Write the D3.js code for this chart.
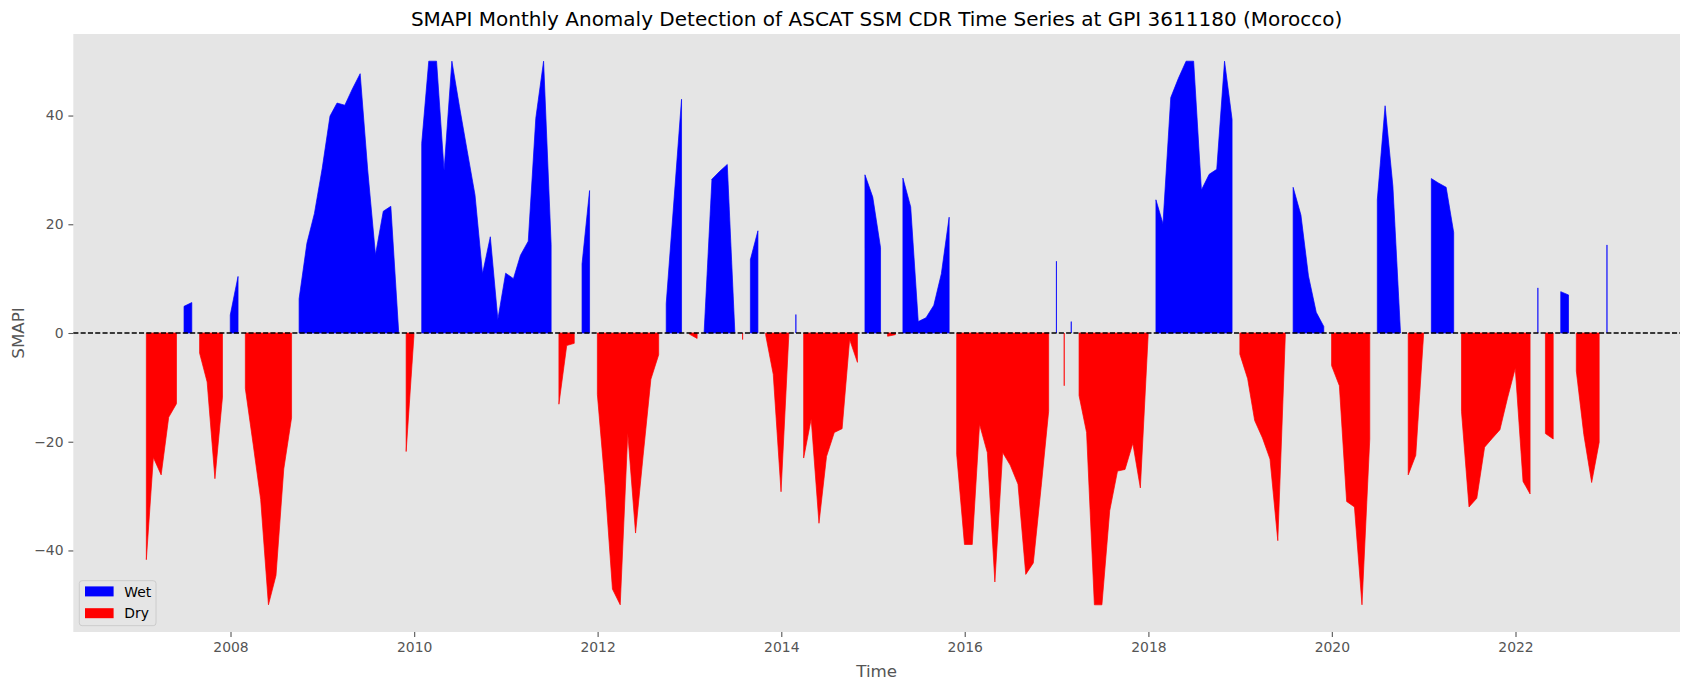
<!DOCTYPE html>
<html>
<head>
<meta charset="utf-8">
<script src="https://cdn.jsdelivr.net/npm/d3@7"></script>
<style>
  body { margin: 0; background: #fff; }
  svg { display: block; font-family: "DejaVu Sans", sans-serif; }
</style>
</head>
<body>
<svg id="chart" width="1690" height="690"></svg>
<script>
// monthly SMAPI values, one row per year (Jan..Dec, month-end)
var startYear = 2007;
var smapi = [
  -41.7, -22.9, -26.1, -15.5, -13.0,   4.9,   5.6,  -3.7,  -9.0, -26.8, -11.8,   3.3, // 2007
   10.4, -10.2, -20.4, -30.6, -50.0, -44.6, -25.0, -15.6,   6.3,  16.5,  22.0,  30.3, // 2008
   39.9,  42.3,  41.9,  44.9,  47.7,  30.0,  14.4,  22.4,  23.3,   0.4, -21.8,  -0.5, // 2009
   34.9,  50.0,  50.0,  29.9,  50.0,  41.7,  33.5,  25.4,  10.9,  17.7,   2.5,  11.0, // 2010
   10.0,  14.3,  16.9,  39.5,  50.0,  16.3, -13.1,  -2.3,  -1.9,  12.7,  26.2, -11.3, // 2011
  -28.1, -47.1, -50.0, -18.4, -36.8, -22.6,  -8.5,  -4.0,   5.4,  24.5,  43.0,  -0.2, // 2012
   -1.0,   0.2,  28.3,  29.7,  31.0,   0.3,  -1.2,  13.5,  18.8,  -0.4,  -7.6, -29.2, // 2013
   -0.3,   3.4, -23.0, -15.8, -35.0, -22.7, -18.3, -17.6,  -1.2,  -5.4,  29.1,  25.0, // 2014
   15.7,  -0.6,  -0.3,  28.5,  23.2,   2.1,   2.8,   5.1,  10.9,  21.3, -22.3, -38.9, // 2015
  -38.9, -16.8, -22.0, -45.8, -22.0, -24.3, -27.8, -44.4, -42.3, -28.4, -14.4,  13.2, // 2016
   -9.7,   2.1, -11.5, -18.3, -50.0, -50.0, -32.7, -25.4, -25.1, -20.3, -28.5,  -0.4, // 2017
   24.5,  20.1,  43.3,  46.8,  50.0,  50.0,  26.3,  29.2,  30.1,  50.0,  39.3,  -3.9, // 2018
   -8.4, -16.1, -19.3, -23.2, -38.2,  -0.3,  26.8,  21.7,  10.5,   3.8,   1.2,  -6.0, // 2019
   -9.7, -31.0, -32.0, -50.0, -19.5,  24.5,  41.8,  27.0,   0.3, -26.1, -22.5,  -0.4, // 2020
   28.4,  27.6,  26.8,  18.5, -14.4, -32.0, -30.4, -21.0, -19.4, -17.8, -12.0,  -6.5, // 2021
  -27.3, -29.6,   8.3, -18.5, -19.5,   7.6,   7.0,  -7.0, -18.7, -27.5, -20.1,  16.2  // 2022
];
var seriesNames = ["Wet", "Dry"];
var seriesColors = ["#0000ff", "#ff0000"];
var yTicks = [-40, -20, 0, 20, 40];
var xTickYears = [2008, 2010, 2012, 2014, 2016, 2018, 2020, 2022];
var title = "SMAPI Monthly Anomaly Detection of ASCAT SSM CDR Time Series at GPI 3611180 (Morocco)";

// month-end dates
var data = smapi.map(function (v, i) {
    return { date: new Date(Date.UTC(startYear, i + 1, 0)), v: v };
});

var svg = d3.select("#chart");
var L = 73.3, R = 1680, T = 34, B = 632;

// x limits padded like matplotlib (5 %)
var ext = d3.extent(data, d => d.date.getTime());
var pad = (ext[1] - ext[0]) * 0.05;
var x = d3.scaleUtc().domain([new Date(ext[0] - pad), new Date(ext[1] + pad)]).range([L, R]);
var y = d3.scaleLinear().domain([-55, 55]).range([B, T]);

svg.append("rect").attr("x", L).attr("y", T).attr("width", R - L).attr("height", B - T)
    .attr("fill", "#e5e5e5");

// split into contiguous runs of wet (>=0) and dry (<0) months, like fill_between(where=...)
function runs(test) {
    var out = [], cur = null;
    data.forEach(function (d) {
        if (test(d.v)) { if (!cur) { cur = []; out.push(cur); } cur.push(d); }
        else cur = null;
    });
    return out;
}

var area = d3.area().x(d => x(d.date)).y0(y(0)).y1(d => y(d.v));
var tests = [v => v >= 0, v => v < 0];

tests.forEach(function (t, si) {
    svg.append("g").selectAll("path").data(runs(t)).join("path")
        .attr("d", area)
        .attr("fill", seriesColors[si])
        .attr("stroke", seriesColors[si])
        .attr("stroke-width", 0.7);
});

// dashed zero line
svg.append("line").attr("x1", L).attr("x2", R).attr("y1", y(0)).attr("y2", y(0))
    .attr("stroke", "#000").attr("stroke-width", 1.4).attr("stroke-dasharray", "5.1,2.2");

// axes
var gx = svg.append("g").attr("transform", "translate(0," + B + ")")
    .call(d3.axisBottom(x)
        .tickValues(xTickYears.map(yy => new Date(Date.UTC(yy, 0, 1))))
        .tickFormat(d3.utcFormat("%Y"))
        .tickSize(4.9).tickPadding(4.9));
var gy = svg.append("g").attr("transform", "translate(" + L + ",0)")
    .call(d3.axisLeft(y).tickValues(yTicks).tickSize(4.9).tickPadding(4.9));

[gx, gy].forEach(function (g) {
    g.select(".domain").remove();
    g.selectAll(".tick line").attr("stroke", "#555555").attr("stroke-width", 1.1);
    g.selectAll(".tick text").attr("fill", "#555555")
        .attr("font-size", 13.9).attr("font-family", "DejaVu Sans");
});
gx.selectAll(".tick text").attr("dy", "0.76em");

// labels
svg.append("text").attr("x", (L + R) / 2).attr("y", 25.5).attr("text-anchor", "middle")
    .attr("font-size", 20).attr("fill", "#000").text(title);
svg.append("text").attr("x", (L + R) / 2).attr("y", 676.5).attr("text-anchor", "middle")
    .attr("font-size", 16.7).attr("fill", "#555555").text("Time");
svg.append("text").attr("transform", "translate(24," + (T + B) / 2 + ") rotate(-90)")
    .attr("text-anchor", "middle").attr("font-size", 16.7).attr("fill", "#555555").text("SMAPI");

// legend
var lg = svg.append("g").attr("transform", "translate(79.3,580.7)");
lg.append("rect").attr("width", 76.7).attr("height", 45).attr("rx", 2.8)
    .attr("fill", "#e5e5e5").attr("stroke", "#cccccc").attr("stroke-width", 1);
seriesNames.forEach(function (name, i) {
    lg.append("rect").attr("x", 5.7).attr("y", 5.7 + i * 21.8).attr("width", 28.6).attr("height", 10)
        .attr("fill", seriesColors[i]);
    lg.append("text").attr("x", 45).attr("y", 16 + i * 21.8)
        .attr("font-size", 13.9).attr("fill", "#000").text(name);
});
</script>
</body>
</html>
